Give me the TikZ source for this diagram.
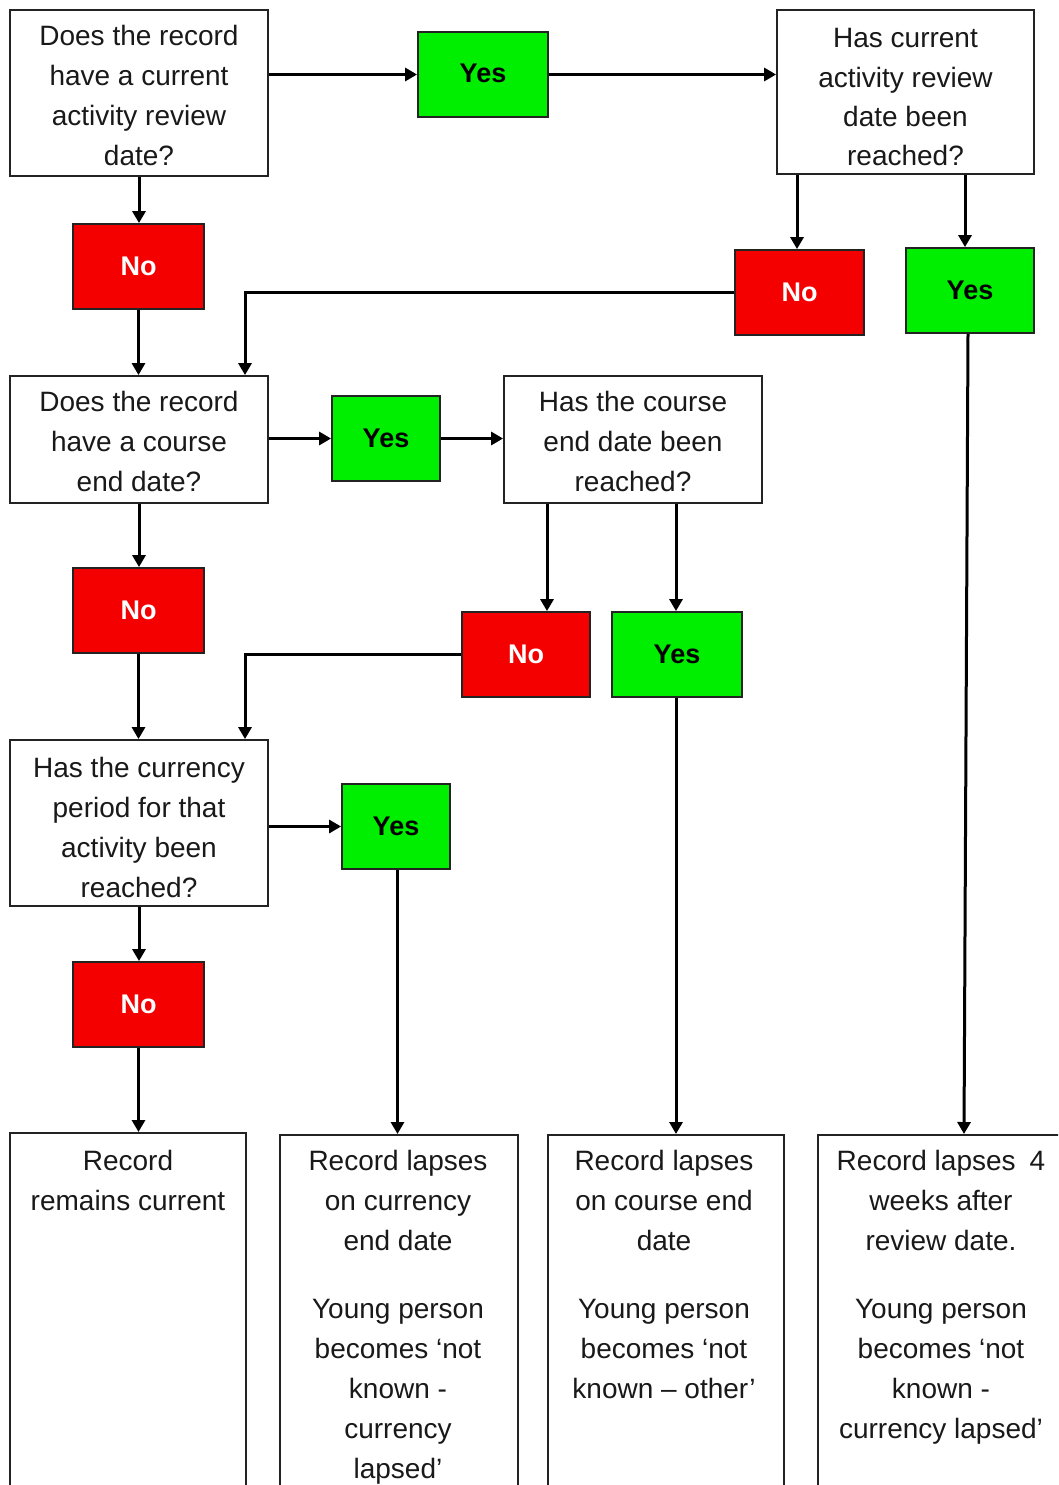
\documentclass[tikz,border=0pt]{standalone}
\usepackage{fontspec}
\setmainfont{Liberation Sans}
\usetikzlibrary{arrows.meta}
\definecolor{ygreen}{RGB}{0,238,0}
\definecolor{nred}{RGB}{245,0,0}
\definecolor{txt}{RGB}{25,25,25}
\definecolor{edge}{RGB}{35,35,35}
\begin{document}
\begin{tikzpicture}[x=1pt,y=-1pt,
  qbox/.style={draw=edge, line width=1.8pt, fill=white, align=center, text=txt,
    font=\fontsize{28}{40}\selectfont, inner sep=0pt},
  ansbox/.style={draw=edge, line width=1.8pt, inner sep=0pt, minimum height=85pt,
    font=\bfseries\fontsize{27}{32}\selectfont},
  yesbox/.style={ansbox, fill=ygreen, text=black},
  nobox/.style={ansbox, fill=nred, text=white},
  endbox/.style={draw=edge, line width=1.8pt, fill=white, inner sep=0pt, minimum height=500pt, anchor=north},
  endtext/.style={align=center, text=txt, font=\fontsize{28}{40}\selectfont, inner sep=0pt, anchor=north},
  arr/.style={line width=3pt, draw=black, -{Triangle[length=12pt,width=13pt]}},
]
\path[use as bounding box] (0,0) rectangle (1058,1485);
\clip (0,0) rectangle (1058,1485);
\fill[white] (0,0) rectangle (1058,1485);

% question boxes
\node[qbox, minimum width=258pt, minimum height=166pt] (qa) at (139,93)
  {\rule{0pt}{25pt}Does the record\\have a current\\activity review\\date?};
\node[qbox, minimum width=257pt, minimum height=164pt, font=\fontsize{28}{39.3}\selectfont] (qb) at (905.5,92)
  {\rule{0pt}{30pt}Has current\\activity review\\date been\\reached?};
\node[qbox, minimum width=258pt, minimum height=127pt] (qc) at (139,439.5)
  {\rule{0pt}{25pt}Does the record\\have a course\\end date?};
\node[qbox, minimum width=258pt, minimum height=127pt] (qd) at (633,439.5)
  {\rule{0pt}{25pt}Has the course\\end date been\\reached?};
\node[qbox, minimum width=258pt, minimum height=166pt] (qe) at (139,823)
  {\rule{0pt}{29pt}Has the currency\\period for that\\activity been\\reached?};

% yes / no boxes
\node[yesbox, minimum width=130pt] (yes1) at (483,74.5) {\raisebox{2pt}{Yes}};
\node[nobox, minimum width=131pt] (no1) at (138.5,266.5) {No};
\node[nobox, minimum width=129pt] (no2) at (799.5,292.5) {No};
\node[yesbox, minimum width=128pt] (yes2) at (970,290.5) {Yes};
\node[yesbox, minimum width=108pt] (yes3) at (386,438.5) {Yes};
\node[nobox, minimum width=131pt] (no3) at (138.5,610.5) {No};
\node[nobox, minimum width=128pt] (no4) at (526,654.5) {No};
\node[yesbox, minimum width=130pt] (yes4) at (677,654.5) {Yes};
\node[yesbox, minimum width=108pt] (yes5) at (396,826.5) {Yes};
\node[nobox, minimum width=131pt] (no5) at (138.5,1004.5) {No};

% end boxes
\node[endbox, minimum width=236pt] (b1) at (128,1132) {};
\node[endbox, minimum width=238pt] (b2) at (399,1134) {};
\node[endbox, minimum width=236pt] (b3) at (666,1134) {};
\node[endbox, minimum width=252pt] (b4) at (944,1134) {};

\node[endtext] (t1) at (128,1150) {Record\\remains current};
\node[endtext] (t2) at (398,1150) {Record lapses\\on currency\\end date\\[28pt]Young person\\becomes ‘not\\known -\\currency\\lapsed’};
\node[endtext] (t3) at (664,1150) {Record lapses\\on course end\\date\\[28pt]Young person\\becomes ‘not\\known – other’};
\node[endtext] (t4) at (941,1150) {Record lapses\enspace 4\\weeks after\\review date.\\[28pt]Young person\\becomes ‘not\\known -\\currency lapsed’};

% connectors
\draw[arr] (qa.east |- yes1.west) -- (yes1.west);
\draw[arr] (yes1.east) -- (yes1.east -| qb.west);
\draw[arr] (qa.south) -- (qa.south |- no1.north);
\draw[arr] (no1.south) -- (no1.south |- qc.north);
\draw[arr] ([xshift=-2.5pt]no2.north |- qb.south) -- ([xshift=-2.5pt]no2.north);
\draw[arr] ([xshift=-5pt]yes2.north |- qb.south) -- ([xshift=-5pt]yes2.north);
\draw[arr] (no2.west) -| ([xshift=106pt]qc.north);
\coordinate (b4in) at ([xshift=20pt]b4.north);
\draw[arr] ([xshift=-2pt]yes2.south) -- (b4in);

\draw[arr] (qc.east |- yes3.west) -- (yes3.west);
\draw[arr] (yes3.east) -- (yes3.east -| qd.west);
\draw[arr] (qc.south) -- (qc.south |- no3.north);
\draw[arr] ([xshift=21pt]no4.north |- qd.south) -- ([xshift=21pt]no4.north);
\draw[arr] ([xshift=-1pt]yes4.north |- qd.south) -- ([xshift=-1pt]yes4.north);
\draw[arr] (no3.south) -- (no3.south |- qe.north);
\draw[arr] (no4.west) -| ([xshift=106pt]qe.north);

\draw[arr] (qe.east |- yes5.west) -- (yes5.west);
\draw[arr] (qe.south) -- (qe.south |- no5.north);
\draw[arr] ([xshift=1.5pt]yes5.south) -- ([xshift=1.5pt]yes5.south |- b2.north);
\draw[arr] ([xshift=-1pt]yes4.south) -- ([xshift=-1pt]yes4.south |- b3.north);
\draw[arr] (no5.south) -- (no5.south |- b1.north);
\end{tikzpicture}
\end{document}
